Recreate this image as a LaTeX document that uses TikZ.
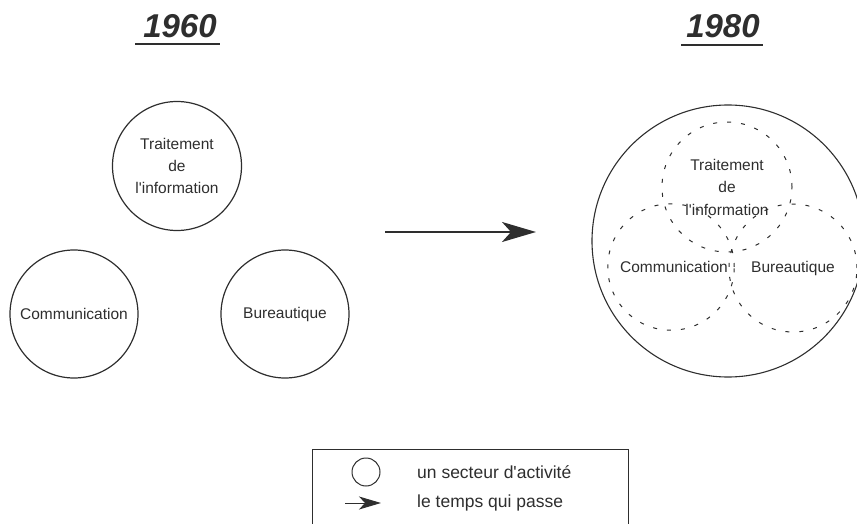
\documentclass[tikz,border=0pt]{standalone}
\usepackage{fontspec}
\setmainfont{Liberation Sans}
\newfontfamily\arialf{Liberation Sans}
\usetikzlibrary{arrows.meta}
\definecolor{ink}{HTML}{2E2E2E}
\begin{document}
\begin{tikzpicture}[x=1pt,y=-1pt,
  sector/.style={circle,draw=ink,line width=1.2pt,minimum size=#1,inner sep=0pt,align=center,
    font=\arialf\fontsize{15.5}{22}\selectfont,text=ink},
  dsector/.style={circle,draw=ink,line width=1pt,dash pattern=on 4pt off 10pt,minimum size=#1,inner sep=0pt,
    align=center,font=\arialf\fontsize{15.5}{22.5}\selectfont,text=ink},
  yeartitle/.style={font=\arialf\fontsize{33}{33}\selectfont\bfseries\itshape,text=ink,inner sep=0pt,anchor=base},
  legtext/.style={font=\arialf\fontsize{17.5}{17.5}\selectfont,text=ink,anchor=west,inner sep=0pt}]
\useasboundingbox (0,0) rectangle (857,524);
% titles
\node[yeartitle] (t1960) at (180,38) {1960};
\node[yeartitle] (t1980) at (723,38) {1980};
\draw[ink,line width=2.6pt] (135,44) -- (220,44);
\draw[ink,line width=2.6pt] (681,45) -- (763,45);
% 1960 circles
\node[sector=129pt] (trait) at (177,166) {Traitement\\de\\l'information};
\node[sector=128pt] (comm) at (74,314) {Communication};
\node[sector=128pt] (bur) at (285,314) {Bureautique};
% arrow
\coordinate (a1) at (385,232);
\coordinate (a2) at (536,232);
\draw[ink,line width=2.4pt,-{Stealth[length=34pt,width=20pt,inset=9pt]}] (a1) -- (a2);
% 1980
\node[sector=272pt,line width=1.1pt] (all) at (728,241) {};
\node[dsector=130pt] (dtrait) at (727,187) {Traitement\\de\\l'information};
\node[dsector=126pt,text width=126pt] (dcomm) at (671,267) {\hspace*{6pt}Communication};
\node[dsector=128pt] (dbur) at (793,268) {Bureautique};
% legend
\draw[ink,line width=1pt] (312,524) -- (312,449.5) -- (628,449.5) -- (628,524);
\node[circle,draw=ink,line width=1pt,minimum size=28pt,inner sep=0pt] (lcirc) at (366,472) {};
\node[legtext] (ltext1) at (417,472) {un secteur d'activité};
\coordinate (la1) at (345,503);
\coordinate (la2) at (381,503);
\draw[ink,line width=1pt,-{Stealth[length=22pt,width=13pt,inset=6pt]}] (la1) -- (la2);
\node[legtext] (ltext2) at (417,503) {le temps qui passe};
\end{tikzpicture}
\end{document}
